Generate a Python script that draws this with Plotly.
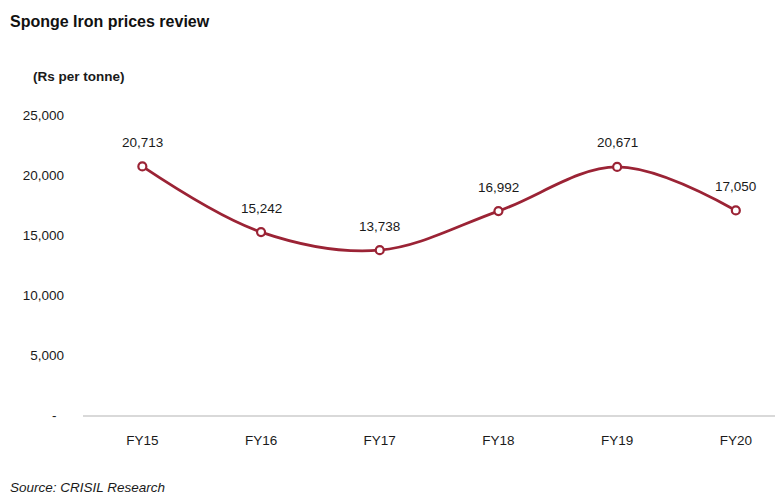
import plotly.graph_objects as go

categories = ["FY15", "FY16", "FY17", "FY18", "FY19", "FY20"]
prices = [20713, 15242, 13738, 16992, 20671, 17050]
y_tick_values = [0, 5000, 10000, 15000, 20000, 25000]
y_tick_labels = ["-  ", "5,000", "10,000", "15,000", "20,000", "25,000"]

line_color = "#9B2335"
text_color = "#1a1a1a"
font_family = "Liberation Sans, Arial, sans-serif"

W, H = 780, 495
ML, MR, MT, MB = 83, 5, 115, 80

fig = go.Figure()
fig.add_trace(go.Scatter(
    x=categories,
    y=prices,
    mode="lines+markers",
    line=dict(color=line_color, width=2.8, shape="spline", smoothing=1.0),
    marker=dict(symbol="circle", size=8, color="white",
                line=dict(color=line_color, width=2.2)),
    cliponaxis=False,
    hoverinfo="skip",
))

ann = []
# data labels above the points
for c, v in zip(categories, prices):
    ann.append(dict(x=c, y=v, xref="x", yref="y", text=f"{v:,}",
                    showarrow=False, yanchor="middle", xanchor="center",
                    yshift=24, font=dict(size=13.5, color=text_color)))

plot_w = W - ML - MR
plot_h = H - MT - MB
def px_to_paper(px, py):
    return (px - ML) / plot_w, (H - MB - py) / plot_h

x, y = px_to_paper(8, 22)
ann.append(dict(text="<b>Sponge Iron prices review</b>", x=x, y=y, xref="paper", yref="paper",
                xanchor="left", yanchor="middle", showarrow=False,
                font=dict(size=16, color="#111111")))
x, y = px_to_paper(31, 77)
ann.append(dict(text="<b>(Rs per tonne)</b>", x=x, y=y, xref="paper", yref="paper",
                xanchor="left", yanchor="middle", showarrow=False,
                font=dict(size=13.5, color=text_color)))
x, y = px_to_paper(8, 487)
ann.append(dict(text="<i>Source: CRISIL Research</i>", x=x, y=y, xref="paper", yref="paper",
                xanchor="left", yanchor="middle", showarrow=False,
                font=dict(size=13.5, color=text_color)))

fig.update_layout(
    width=W, height=H,
    margin=dict(l=ML, r=MR, t=MT, b=MB),
    paper_bgcolor="white", plot_bgcolor="white",
    showlegend=False,
    hovermode=False,
    font=dict(family=font_family, size=13.5, color=text_color),
    xaxis=dict(
        type="category",
        range=[-0.5, 5.33],
        showgrid=False,
        showline=True, linecolor="#d9d9d9", linewidth=2,
        ticks="", tickfont=dict(size=13.5, color=text_color),
        ticklabelstandoff=12,
    ),
    yaxis=dict(
        range=[0, 25000],
        tickvals=y_tick_values,
        ticktext=y_tick_labels,
        showgrid=False, zeroline=False, showline=False,
        ticks="", ticklabelstandoff=18,
        tickfont=dict(size=13.5, color=text_color),
    ),
    annotations=ann,
)

fig.write_html("out.html", config={"displayModeBar": False},
               post_script="document.body.style.margin='0';")
